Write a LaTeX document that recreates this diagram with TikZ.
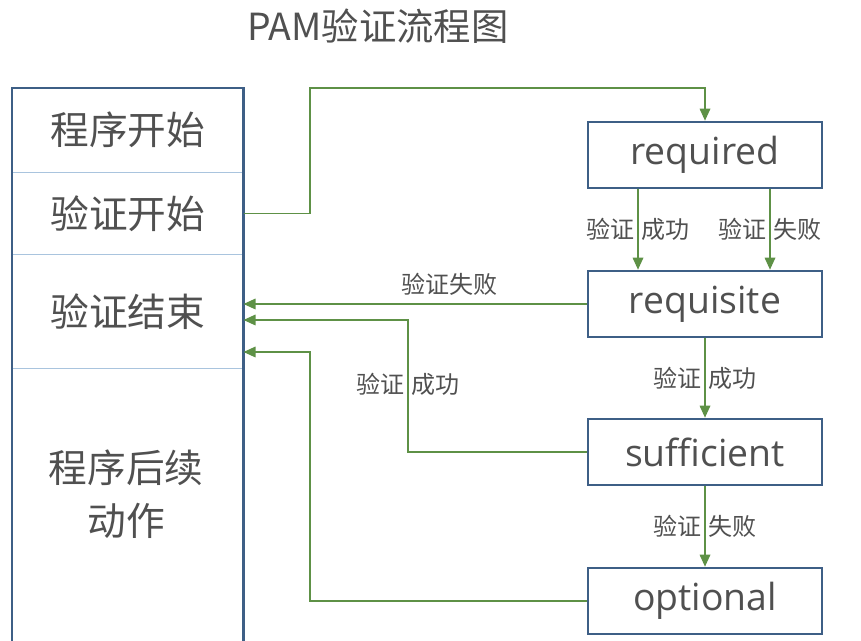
\documentclass[tikz,border=0pt]{standalone}
\usepackage{fontspec}
\setmainfont{Open Sans}
\newfontfamily\cjk{Noto Sans CJK SC}
\usetikzlibrary{arrows.meta}
\definecolor{boxblue}{HTML}{3E5F86}
\definecolor{celline}{HTML}{A9C4DE}
\definecolor{flowgreen}{HTML}{5E9146}
\definecolor{txtgray}{HTML}{505050}
\tikzset{
% cells of the left column and the module boxes
cell/.style={draw=none,minimum width=173.25pt,minimum height=#1,inner sep=0,anchor=north west},
module/.style={draw=boxblue,line width=2pt,minimum width=175.5pt,minimum height=49.5pt,inner sep=0,
  font=\fontsize{28}{30}\selectfont,text=txtgray},
flow/.style={draw=flowgreen!80!gray,line width=0.9pt,-{Triangle[length=9pt,width=8pt]},color=flowgreen},
lbl/.style={font=\cjk\fontsize{18}{20}\selectfont,text=txtgray,inner sep=2pt}
}
\begin{document}
\begin{tikzpicture}[x=0.75pt,y=-0.75pt]
  \useasboundingbox (0,0) rectangle (861,641);
  % title
  \node[font=\cjk\fontsize{28}{30}\selectfont,text=txtgray] (title) at (378,26) {PAM验证流程图};
  % left column
  \node[cell=63pt] (c1) at (12,88) {};
  \node[cell=61.5pt] (c2) at (12,172) {};
  \node[cell=85.5pt] (c3) at (12,254) {};
  \node[cell=210pt] (c4) at (12,368) {};
  \draw[celline,line width=1pt] (c1.south west) -- (c1.south east)
    (c2.south west) -- (c2.south east) (c3.south west) -- (c3.south east);
  \draw[boxblue,line width=2pt] (c4.south west) -- (c1.north west) -- (c1.north east) -- (c4.south east);
  \foreach \c/\t in {c1/程序开始,c2/验证开始,c3/验证结束}
    \node[font=\cjk\fontsize{29}{32}\selectfont,text=txtgray] at (\c.center) {\t};
  \node[font=\cjk\fontsize{29}{40}\selectfont,text=txtgray,align=center] at (126,494) {程序后续\\动作};
  % modules
  \node[module] (m1) at (705,155) {required};
  \node[module] (m2) at (705,304) {requisite};
  \node[module] (m3) at (705,452) {sufficient};
  \node[module] (m4) at (705,601) {optional};
  % connectors
  \draw[flow] (c2.east) -| (310,88) -| (m1.north);
  \draw[flow] (m1.south -| 638,0) -- (m2.north -| 638,0)
    node[lbl,midway,left] {验证} node[lbl,midway,right] {成功};
  \draw[flow] (m1.south -| 770,0) -- (m2.north -| 770,0)
    node[lbl,midway,left] {验证} node[lbl,midway,right] {失败};
  \draw[flow] (m2.west) -- (m2.west -| c3.east) node[lbl,pos=0.4,above=4pt] {验证失败};
  \draw[flow] (m2.south) -- (m3.north)
    node[lbl,midway,left] {验证} node[lbl,midway,right] {成功};
  \draw[flow] (m3.west) -- (408,452) -- (408,320) -- (c3.east |- 0,320)
    node[lbl,pos=0,below=48pt,left] {验证} node[lbl,pos=0,below=48pt,right] {成功};
  \draw[flow] (m3.south) -- (m4.north)
    node[lbl,midway,left] {验证} node[lbl,midway,right] {失败};
  \draw[flow] (m4.west) -- (310,601) -- (310,352) -- (c3.east |- 0,352);
\end{tikzpicture}
\end{document}
